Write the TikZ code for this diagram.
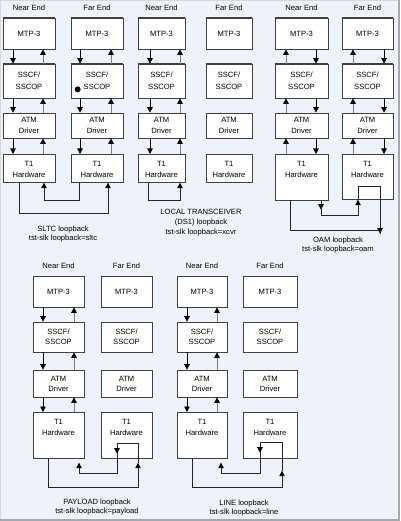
\documentclass[tikz,border=0pt]{standalone}
\usepackage{fontspec}
\setmainfont{Liberation Sans}
\usetikzlibrary{arrows.meta, positioning}
\definecolor{panelbg}{RGB}{238,242,250}
\definecolor{boxline}{RGB}{64,64,64}
\definecolor{upline}{RGB}{125,125,125}
\definecolor{frameline}{RGB}{165,168,175}

\begin{document}
\begin{tikzpicture}[
    x=1pt, y=-1pt,
    font=\fontsize{7.6}{10}\selectfont,
    layer/.style={draw=boxline, fill=white, line width=0.7pt, align=center, inner sep=0pt},
    heading/.style={inner sep=1pt},
    caption/.style={align=center, inner sep=1pt, font=\fontsize{7.6}{9.8}\selectfont},
    hwlabel/.style={anchor=north, align=center, inner xsep=1pt, inner ysep=7.5pt},
    downflow/.style={line width=0.8pt, -{Triangle[width=5.5pt, length=5.5pt]}},
    upflow/.style={line width=0.8pt, draw=upline, -{Triangle[width=5.5pt, length=5.5pt, color=black]}},
    loopflow/.style={line width=0.8pt, draw=black!85},
    loopto/.style={loopflow, -{Triangle[width=5.5pt, length=5.5pt, color=black]}}
]
   \useasboundingbox (0,0) rectangle (400,521);
   \fill[panelbg] (0,0) rectangle (400,521);
   \draw[frameline!45, line width=0.6pt] (0.3,520) -- (0.3,0.3) -- (399,0.3);
   \draw[frameline, line width=2pt] (399,0) -- (399,520) -- (0,520);

   % Upper stacks
   \foreach \col/\cx/\w/\hh/\hd/\tw in {
       sltcn/29/52/28/Near End/1.6pt, sltcf/97/52/28/Far End/1.6pt,
       xcvrn/161.5/47/28/Near End/0.7pt, xcvrf/229/46/28/Far End/0.7pt,
       oamn/301.5/53/46/Near End/1.6pt, oamf/367.5/51/45/Far End/1.6pt}{
     \node[heading] (\col-head) at (\cx,8) {\hd};
     \node[layer, minimum width=\w, minimum height=31, font=\fontsize{7.6}{12}\selectfont] (\col-mtp) at (\cx,33.5) {MTP-3};
     \node[layer, minimum width=\w, minimum height=34, font=\fontsize{7.6}{12.5}\selectfont] (\col-sscf) at (\cx,81) {SSCF/\\SSCOP};
     \node[layer, minimum width=\w, minimum height=25, font=\fontsize{7.6}{11.5}\selectfont] (\col-atm) at (\cx,125.5) {ATM\\Driver};
     \node[layer, minimum width=\w, minimum height=\hh, anchor=north,
           label={[hwlabel, font=\fontsize{7.6}{11}\selectfont]north:T1\\Hardware}] (\col-hw) at (\cx,154) {};
     \draw[boxline, line width=\tw] (\col-mtp.north west) -- (\col-mtp.north east);
     \draw[boxline, line width=\tw] (\col-sscf.north west) -- (\col-sscf.north east);
   }

   % Lower stacks
   \foreach \col/\cx/\w/\hd in {
       payn/58.5/51/Near End, payf/126.5/51/Far End,
       linen/202/50/Near End, linef/270/54/Far End}{
     \node[heading] (\col-head) at (\cx,266) {\hd};
     \node[layer, minimum width=\w, minimum height=31] (\col-mtp) at (\cx,291.5) {MTP-3};
     \node[layer, minimum width=\w, minimum height=30] (\col-sscf) at (\cx,337) {SSCF/\\SSCOP};
     \node[layer, minimum width=\w, minimum height=27] (\col-atm) at (\cx,383.5) {ATM\\Driver};
     \node[layer, minimum width=\w, minimum height=46, anchor=north,
           label={[hwlabel, font=\fontsize{7.6}{11}\selectfont]north:T1\\Hardware}] (\col-hw) at (\cx,412) {};
   }

   \node[circle, fill=black, inner sep=0pt, minimum size=6pt] (sltcf-dot) at ([xshift=7pt, yshift=9pt]sltcf-sscf.south west) {};

   % Flows between layers
   \foreach \col/\dn/\up in {sltcn/-16/14, sltcf/-17/14, xcvrn/-11.5/18.5,
       oamn/14.5/-15.5, oamf/16.5/-14.5, payn/-15.5/15.5, linen/-15/15}{
     \foreach \a/\b in {mtp/sscf, sscf/atm, atm/hw}{
       \draw[downflow] ([xshift=\dn pt]\col-\a.south) -- ([xshift=\dn pt]\col-\b.north);
       \draw[upflow] ([xshift=\up pt]\col-\b.north) -- ([xshift=\up pt]\col-\a.south);
     }
   }

   % SLTC loopback
   \draw[loopto] ([xshift=-18pt]sltcf-hw.south) -- ++(0,18) -| ([xshift=15pt]sltcn-hw.south);
   \draw[loopto] ([xshift=-10pt]sltcn-hw.south) -- ++(0,31) -| ([xshift=11pt]sltcf-hw.south);

   % local transceiver loopback
   \draw[loopto] ([xshift=-13.5pt]xcvrn-hw.south) -- ++(0,18) -| ([xshift=18.5pt]xcvrn-hw.south);

   % OAM loopback
   \draw[loopto] ([xshift=19.5pt]oamn-hw.south) -- ++(0,9);
   \draw[loopto] ([xshift=19.5pt]oamn-hw.south) -- ++(0,15) -| ([xshift=-9.5pt]oamf-hw.south);
   \draw[loopto] ([xshift=-9.5pt]oamf-hw.south) -- ++(0,-13) -- ++(22,0) -- ++(0,47) coordinate (oamtap);
   \draw[loopflow] ([xshift=-11.5pt]oamn-hw.south) -- ++(0,30) -| (oamtap);

   % payload loopback
   \draw[loopto] ([xshift=-10.5pt]payn-hw.south) -- ++(0,29) -| ([xshift=11.5pt, yshift=-4pt]payf-hw.south);
   \draw[loopto] ([xshift=11.5pt, yshift=-4pt]payf-hw.south) -- ++(0,-19) -- ++(-21,0) -- ++(0,30) -| ([xshift=20.5pt, yshift=-4pt]payn-hw.south);
   \draw[loopto] ([xshift=-9.5pt, yshift=15pt]payf-hw.south) -- ++(0,10);

   % line loopback
   \draw[loopto] ([xshift=-10pt]linen-hw.south) -- ++(0,29) -| ([xshift=12pt, yshift=-12pt]linef-hw.south);
   \draw[loopto] ([xshift=12pt, yshift=-12pt]linef-hw.south) -- ++(0,-28) -- ++(-22,0) -- ++(0,31) -| ([xshift=19pt, yshift=-4pt]linen-hw.south);
   \draw[loopto] ([xshift=-10pt, yshift=16pt]linef-hw.south) -- ++(0,10);

   % Captions
   \node[caption] (sltc-cap) at (63,234) {SLTC loopback\\tst-slk loopback=sltc};
   \node[caption] (xcvr-cap) at (201,222.5) {LOCAL TRANSCEIVER\\(DS1) loopback\\tst-slk loopback=xcvr};
   \node[caption] (oam-cap) at (338,245) {OAM loopback\\tst-slk loopback=oam};
   \node[caption] (pay-cap) at (97,507) {PAYLOAD loopback\\tst-slk loopback=payload};
   \node[caption] (line-cap) at (244,508) {LINE loopback\\tst-slk loopback=line};
\end{tikzpicture}
\end{document}
